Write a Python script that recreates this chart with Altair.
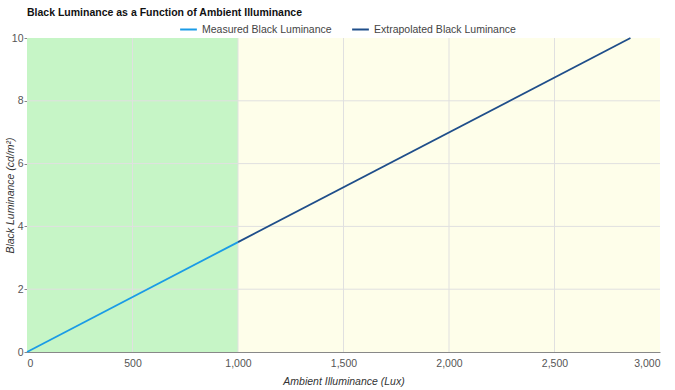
import altair as alt
import pandas as pd

# Data
measured_x = [0, 1000]
measured_y = [0, 3.5]
extrap_x = [1000, 2860]
extrap_y = [3.5, 10.0]
series_names = ["Measured Black Luminance", "Extrapolated Black Luminance"]
series_colors = ["#1a9be6", "#1f4e8a"]

zone_start = [0, 1000]
zone_end = [1000, 3000]
zone_colors = ["#c6f5c6", "#fefeea"]

x_ticks = [0, 500, 1000, 1500, 2000, 2500, 3000]
y_ticks = [0, 2, 4, 6, 8, 10]

lines = pd.DataFrame({
    "x": measured_x + extrap_x,
    "y": measured_y + extrap_y,
    "series": [series_names[0]] * len(measured_x) + [series_names[1]] * len(extrap_x),
})
zones = pd.DataFrame({"x": zone_start, "x2": zone_end, "c": zone_colors})
xgrid = pd.DataFrame({"x": x_ticks[1:-1]})
ygrid = pd.DataFrame({"y": y_ticks[1:-1]})

font = "Liberation Sans"
grid_color = "#e0e0e0"

xscale = alt.Scale(domain=[0, 3000], nice=False)
yscale = alt.Scale(domain=[0, 10], nice=False)

bg = alt.Chart(zones).mark_rect().encode(
    x=alt.X("x:Q", scale=xscale, axis=alt.Axis(
        title="Ambient Illuminance (Lux)", values=x_ticks, format=",.0f",
        titleFontStyle="italic", titleFontWeight="normal", titleFontSize=10.5,
        titleColor="#333", labelColor="#555", labelFontSize=10.5,
        grid=False, domainColor="#888", ticks=False,
        labelPadding=6, titlePadding=8)),
    x2="x2:Q",
    y=alt.value(0),
    y2=alt.value(314),
    color=alt.Color("c:N", scale=None),
)

gx = alt.Chart(xgrid).mark_rule(color=grid_color, strokeWidth=1).encode(
    x=alt.X("x:Q", scale=xscale), y=alt.value(0), y2=alt.value(314))
gy = alt.Chart(ygrid).mark_rule(color=grid_color, strokeWidth=1).encode(
    y=alt.Y("y:Q", scale=yscale), x=alt.value(0), x2=alt.value(633))

ln = alt.Chart(lines).mark_line(strokeWidth=1.8).encode(
    x=alt.X("x:Q", scale=xscale),
    y=alt.Y("y:Q", scale=yscale, axis=alt.Axis(
        title="Black Luminance (cd/m²)", values=y_ticks,
        titleFontStyle="italic", titleFontWeight="normal", titleFontSize=10.5,
        titleColor="#333", labelColor="#555", labelFontSize=10.5,
        grid=False, domainColor="#888", tickColor="#888",
        tickSize=3, labelPadding=1, titleX=-12, titleY=157, titleAngle=-90,
        titleAlign="center", titleBaseline="bottom")),
    color=alt.Color("series:N", scale=alt.Scale(domain=series_names, range=series_colors),
                    legend=alt.Legend(orient="none", legendX=152, legendY=-18,
                                      direction="horizontal", title=None,
                                      symbolType="stroke", symbolStrokeWidth=2,
                                      symbolSize=280, labelFontSize=10.5,
                                      labelColor="#444", columnPadding=16)),
    detail="series:N",
)

chart = alt.layer(bg, gx, gy, ln).properties(
    width=633, height=314,
    autosize=alt.AutoSizeParams(type="none"),
    padding={"left": 27, "top": 38, "right": 15, "bottom": 38},
    title=alt.TitleParams("Black Luminance as a Function of Ambient Illuminance",
                          anchor="start", frame="group", fontSize=10.5, fontWeight="bold",
                          color="#111", dx=0, offset=2, font=font),
).configure(font=font).configure_view(stroke=None)

chart.save("out.html", embed_options={"renderer": "svg", "actions": False})
